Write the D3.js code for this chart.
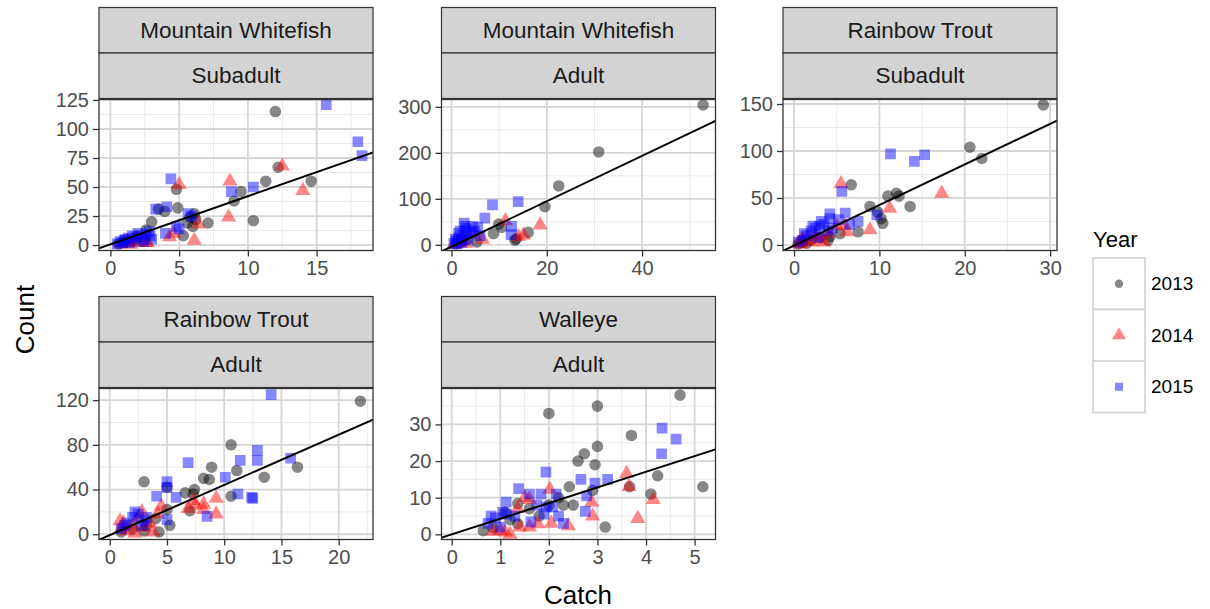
<!DOCTYPE html>
<html>
<head>
<meta charset="utf-8">
<script src="https://cdn.jsdelivr.net/npm/d3@7"></script>
<style>
  body { margin: 0; background: #fff; }
  svg { font-family: "Liberation Sans", Arial, sans-serif; }
</style>
</head>
<body>
<div id="chart"></div>
<script>
// facet labels
const species = ["Mountain Whitefish", "Mountain Whitefish", "Rainbow Trout", "Rainbow Trout", "Walleye"];
const stages = ["Subadult", "Adult", "Subadult", "Adult", "Adult"];
const years = ["2013", "2014", "2015"];

// axis ticks per panel
const xTicks = [[0, 5, 10, 15], [0, 20, 40], [0, 10, 20, 30], [0, 5, 10, 15, 20], [0, 1, 2, 3, 4, 5]];
const yTicks = [[0, 25, 50, 75, 100, 125], [0, 100, 200, 300], [0, 50, 100, 150], [0, 40, 80, 120], [0, 10, 20, 30]];
const xRanges = [[-0.83, 19.1], [-2.1, 55.4], [-1.29, 30.8], [-0.94, 23.0], [-0.21, 5.43]];
const yRanges = [[-4.7, 125.4], [-12.4, 316], [-5.9, 154.8], [-4.7, 130.4], [-1.4, 39.8]];

// fitted lines (slope, intercept)
const slopes = [4.15, 4.94, 4.32, 4.49, 4.27];
const intercepts = [0.6, -4.1, -0.7, -0.8, 0.0];

// [catch, count] points
const mwSub2013 = [[12.0,115],[12.2,67],[11.3,55],[14.6,55],[9.5,46],[9.0,38],[10.4,21],[7.1,19],[6.0,16],[5.8,24],[4.8,48],[4.9,32],[3.95,29],[3.5,31],[3.0,20],[5.3,8],[2.6,13],[2.0,8],[0.6,1],[1.0,2],[1.5,3],[2.5,5],[1.8,4],[5.6,19],[6.1,27],[6.2,22]];
const mwSub2014 = [[12.5,68],[8.7,55],[14.0,47],[5.0,52],[8.6,24],[6.4,18],[6.1,4],[4.3,7],[0.8,1],[1.2,3],[2.0,2],[2.7,2],[1.5,0.5],[4.6,10],[2.6,2]];
const mwSub2015 = [[15.7,121],[18.0,89],[18.3,77],[4.4,57],[8.8,46],[10.4,50],[3.3,31],[4.1,33],[5.65,27],[4.8,16],[4.0,10],[2.9,8],[0.5,1],[0.7,3],[1.0,4],[1.3,6],[1.6,8],[1.9,7],[2.2,5],[2.6,9],[0.9,2],[1.4,2],[1.1,5],[2.0,10],[5.9,25],[3.0,5],[2.8,11.5],[2.4,3],[5.0,14]];

const mwAd2013 = [[52.8,304],[30.9,202],[22.5,128],[19.6,83],[16.1,27],[13.3,10],[9.9,45],[8.8,24],[10.5,38],[5.3,6],[1,2],[3,10],[2,5],[13.6,13]];
const mwAd2014 = [[18.6,43],[15.1,21],[11.3,52],[4.8,25],[1,5],[2,10],[3,3],[0.5,1],[6.5,12],[14,18]];
const mwAd2015 = [[14,94],[8.6,87],[7.0,58],[12.6,40],[12.5,22],[4.5,40],[2.65,47],[1.5,25],[0.5,3],[1,8],[1.5,15],[2,10],[2.5,20],[3,30],[3.5,12],[4,25],[1.2,2],[2.2,5],[3.2,35],[4.8,30],[5.5,38],[6,20],[0.8,12],[2.8,40],[1.8,30]];

const rtSub2013 = [[29.2,149],[20.6,104],[22,92],[6.7,64],[12.0,55],[13.6,41],[8.9,41],[10.4,23],[10.2,28],[7.5,14],[5.4,12],[4.0,5],[0.5,1],[1,3],[2,5],[3,8],[1.5,2],[11.0,52],[12.3,52],[9.8,35],[4.2,9]];
const rtSub2014 = [[5.5,65],[17.3,55],[11.2,39],[8.9,16],[6.2,14],[0.5,2],[1,5],[1.5,8],[2,3],[2.5,10],[3,6],[4,12],[5,20],[0.8,0.5],[3.5,3],[5.9,21],[0.9,6]];
const rtSub2015 = [[11.3,97],[15.3,96],[14.1,89],[5.6,57],[6.0,34],[9.7,32],[7.5,25],[4.2,28],[1,5],[1.5,10],[2,15],[2.5,18],[3,20],[3.5,22],[4,15],[1.2,12],[2.8,8],[3.2,25],[0.5,3],[2.2,20],[4.5,18],[5.2,27],[6.5,22],[4.2,33]];

const rtAd2013 = [[21.9,119],[10.6,80],[8.9,60],[11.1,57],[13.5,51],[8.2,50],[8.7,49],[3.0,47],[16.4,60],[10.6,34],[6.6,37],[7.3,36],[5.0,42],[5.25,8],[4.3,2],[5.0,22],[7.0,21],[1,2],[2,5],[3,3],[3.2,8],[4.0,14],[7.4,40]];
const rtAd2014 = [[6.85,23],[7.3,30],[8.2,27],[9.3,32],[9.3,18],[8.2,22],[7.5,26],[0.9,12],[1.0,5],[1.5,3],[2,8],[2.5,15],[3,6],[3.5,10],[4.2,18],[2.8,20],[1.2,10],[4.5,25],[3.8,2],[2.2,1]];
const rtAd2015 = [[14.1,125],[12.9,75],[12.9,66],[11.4,66],[6.85,64],[15.8,68],[10.1,51],[5.0,47],[5.0,42],[4.1,34],[5.8,33],[11.2,36],[12.5,32],[8.5,16],[5.0,13],[1.0,5],[1.5,10],[2.0,15],[2.5,18],[3.0,12],[3.2,15],[1.3,8],[2.8,8],[2.2,20],[12.4,33]];

const wal2013 = [[4.7,38],[3.0,35],[2.0,33],[3.7,27],[3.0,24],[2.73,22],[2.6,20],[2.95,19],[4.24,16],[5.17,13],[4.1,11],[3.66,13],[2.42,13],[3.16,2],[2.3,8],[2.9,12],[2.0,8],[1.36,8.4],[1.6,7],[1.1,6],[1.36,2.9],[0.85,1.8],[1.2,4],[2.5,8],[2.2,10],[1.8,5],[0.65,1]];
const wal2014 = [[3.6,16.6],[3.65,13],[4.15,9.5],[3.83,4.3],[2.9,5],[2.88,8.7],[2.02,12.3],[2.4,2.3],[2.05,3],[1.77,2.9],[1.6,2],[1.6,9.5],[1.4,2],[1.1,0.6],[0.85,0.8],[1.36,7],[1.2,0],[1.5,10],[1.0,1]];
const wal2015 = [[4.33,29],[4.62,26],[4.32,22],[1.94,17],[2.66,15],[3.21,15],[2.95,14],[2.78,10.5],[2.75,6.3],[1.38,12.5],[1.6,11],[1.84,11],[2.15,11],[2.08,7.5],[2.2,5],[1.63,3.4],[1.12,8.8],[0.81,5],[0.9,4.5],[1.13,5.5],[1.3,5],[1.9,5.5],[1.0,2],[1.75,8],[1.95,7.5],[0.75,3],[1.05,6],[2.3,3]];

const panelPoints = [
  [mwSub2013, mwSub2014, mwSub2015],
  [mwAd2013, mwAd2014, mwAd2015],
  [rtSub2013, rtSub2014, rtSub2015],
  [rtAd2013, rtAd2014, rtAd2015],
  [wal2013, wal2014, wal2015]
];

const width = 1210, height = 609;
const colLeft = [99, 441.5, 783];
const rowTop = [99.5, 388.5];
const panelW = 274, panelH = 151;
const stripH = 45.5;

const yearColor = ["#000000", "#ff0000", "#0000ff"];
const yearShape = [d3.symbolCircle, d3.symbolTriangle, d3.symbolSquare];
const yearSize = [105, 100, 115];
const alpha = 0.47;

const svg = d3.select("#chart").append("svg")
  .attr("width", width)
  .attr("height", height);

svg.append("defs");

species.forEach((sp, i) => {
  const left = colLeft[i % 3];
  const top = rowTop[Math.floor(i / 3)];

  const x = d3.scaleLinear().domain(xRanges[i]).range([left, left + panelW]);
  const y = d3.scaleLinear().domain(yRanges[i]).range([top + panelH, top]);

  // strips
  [sp, stages[i]].forEach((label, k) => {
    const sy = top - 2 * stripH + k * stripH - 1;
    svg.append("rect")
      .attr("x", left).attr("y", sy)
      .attr("width", panelW).attr("height", stripH)
      .attr("fill", "#d3d3d3")
      .attr("stroke", "#333333")
      .attr("stroke-width", 1.2);
    svg.append("text")
      .attr("x", left + panelW / 2)
      .attr("y", sy + stripH / 2)
      .attr("text-anchor", "middle")
      .attr("dominant-baseline", "central")
      .style("font-size", "22.5px")
      .attr("fill", "#1a1a1a")
      .text(label);
  });

  const clipId = "clip" + i;
  svg.select("defs").append("clipPath").attr("id", clipId)
    .append("rect").attr("x", left).attr("y", top).attr("width", panelW).attr("height", panelH);

  const g = svg.append("g");
  g.append("rect")
    .attr("x", left).attr("y", top)
    .attr("width", panelW).attr("height", panelH)
    .attr("fill", "#ffffff");

  // minor grid: midpoints of major ticks, extended one step each side
  const xt = xTicks[i], yt = yTicks[i];
  const xStep = xt[1] - xt[0], yStep = yt[1] - yt[0];
  const xMinor = d3.range(xt[0] - xStep / 2, xRanges[i][1], xStep).filter(v => v > xRanges[i][0]);
  const yMinor = d3.range(yt[0] - yStep / 2, yRanges[i][1], yStep).filter(v => v > yRanges[i][0]);

  g.selectAll(".xminor").data(xMinor).enter().append("line")
    .attr("x1", d => x(d)).attr("x2", d => x(d))
    .attr("y1", top).attr("y2", top + panelH)
    .attr("stroke", "#ebebeb").attr("stroke-width", 1);
  g.selectAll(".yminor").data(yMinor).enter().append("line")
    .attr("x1", left).attr("x2", left + panelW)
    .attr("y1", d => y(d)).attr("y2", d => y(d))
    .attr("stroke", "#ebebeb").attr("stroke-width", 1);
  g.selectAll(".xmajor").data(xt).enter().append("line")
    .attr("x1", d => x(d)).attr("x2", d => x(d))
    .attr("y1", top).attr("y2", top + panelH)
    .attr("stroke", "#d6d6d6").attr("stroke-width", 1.8);
  g.selectAll(".ymajor").data(yt).enter().append("line")
    .attr("x1", left).attr("x2", left + panelW)
    .attr("y1", d => y(d)).attr("y2", d => y(d))
    .attr("stroke", "#d6d6d6").attr("stroke-width", 1.8);

  // points
  const pts = g.append("g").attr("clip-path", `url(#${clipId})`);
  panelPoints[i].forEach((arr, yi) => {
    pts.selectAll(".p" + yi).data(arr).enter().append("path")
      .attr("transform", d => `translate(${x(d[0])},${y(d[1])})`)
      .attr("d", d3.symbol().type(yearShape[yi]).size(yearSize[yi]))
      .attr("fill", yearColor[yi])
      .attr("fill-opacity", alpha);
  });

  // fitted line
  const xs = xRanges[i];
  pts.append("line")
    .attr("x1", x(xs[0])).attr("y1", y(intercepts[i] + slopes[i] * xs[0]))
    .attr("x2", x(xs[1])).attr("y2", y(intercepts[i] + slopes[i] * xs[1]))
    .attr("stroke", "#000").attr("stroke-width", 2);

  // border
  g.append("rect")
    .attr("x", left).attr("y", top)
    .attr("width", panelW).attr("height", panelH)
    .attr("fill", "none")
    .attr("stroke", "#333333")
    .attr("stroke-width", 1.3);

  // axes
  const fmt = d3.format("~g");
  const xAxis = svg.append("g").attr("transform", `translate(0,${top + panelH})`)
    .call(d3.axisBottom(x).tickValues(xt).tickFormat(fmt).tickSize(6).tickPadding(4));
  const yAxis = svg.append("g").attr("transform", `translate(${left},0)`)
    .call(d3.axisLeft(y).tickValues(yt).tickFormat(fmt).tickSize(6).tickPadding(4));
  [xAxis, yAxis].forEach(ax => {
    ax.select(".domain").remove();
    ax.selectAll(".tick line").attr("stroke", "#333333").attr("stroke-width", 1.3);
    ax.selectAll(".tick text")
      .attr("fill", "#4d4d4d")
      .style("font-size", "20px")
      .style("font-family", "'Liberation Sans', Arial, sans-serif");
  });
});

// axis titles
svg.append("text")
  .attr("transform", `translate(34,${(rowTop[0] + rowTop[1] + panelH) / 2}) rotate(-90)`)
  .attr("text-anchor", "middle")
  .style("font-size", "26px")
  .attr("fill", "#000")
  .text("Count");

svg.append("text")
  .attr("x", (colLeft[0] + colLeft[2] + panelW) / 2)
  .attr("y", 604)
  .attr("text-anchor", "middle")
  .style("font-size", "26px")
  .attr("fill", "#000")
  .text("Catch");

// legend
const legend = svg.append("g").attr("transform", "translate(1093,258)");
legend.append("text")
  .attr("x", 0).attr("y", -11)
  .style("font-size", "22px")
  .attr("fill", "#000")
  .text("Year");

const keyH = 51.5, keyW = 52;
const legendSize = [55, 85, 65];
years.forEach((yr, k) => {
  const kg = legend.append("g").attr("transform", `translate(0,${k * keyH})`);
  kg.append("rect")
    .attr("width", keyW).attr("height", keyH)
    .attr("fill", "#fff")
    .attr("stroke", "#d6d6d6")
    .attr("stroke-width", 1.8);
  kg.append("path")
    .attr("transform", `translate(${keyW / 2},${keyH / 2})`)
    .attr("d", d3.symbol().type(yearShape[k]).size(legendSize[k]))
    .attr("fill", yearColor[k])
    .attr("fill-opacity", alpha);
  kg.append("text")
    .attr("x", keyW + 6).attr("y", keyH / 2)
    .attr("dominant-baseline", "central")
    .style("font-size", "19px")
    .attr("fill", "#000")
    .text(yr);
});
</script>
</body>
</html>
